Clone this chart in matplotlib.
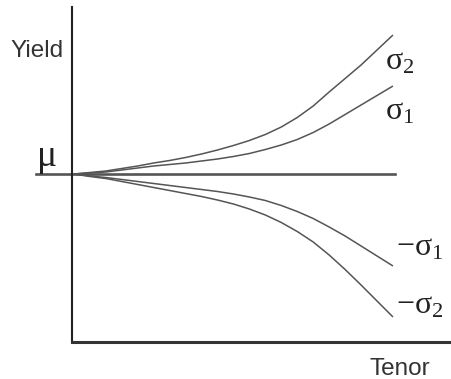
import numpy as np
import matplotlib
matplotlib.use("Agg")
import matplotlib.pyplot as plt

plt.rcParams["font.family"] = ["Liberation Sans", "DejaVu Sans"]
plt.rcParams["mathtext.fontset"] = "custom"
plt.rcParams["mathtext.rm"] = "Liberation Serif"
plt.rcParams["mathtext.it"] = "Liberation Serif:italic"

# tenor (arbitrary units) and yield deviation from the mean
tenor = [0, 0.5, 1, 1.5, 2, 2.5, 3, 3.5, 4, 4.5, 5,
         5.5, 6, 6.5, 7, 7.5, 8, 8.5, 9, 9.5, 10]
sigma2_up = [0, 0.15, 0.3, 0.55, 0.8, 1.1, 1.35, 1.65, 2.0, 2.4, 2.85,
             3.35, 3.95, 4.7, 5.65, 6.8, 8.2, 9.55, 10.9, 12.4, 13.9]
sigma1_up = [0, 0.1, 0.2, 0.4, 0.6, 0.8, 0.95, 1.1, 1.3, 1.5, 1.75,
             2.05, 2.45, 2.9, 3.45, 4.15, 5.0, 5.95, 6.9, 7.85, 8.8]
sigma1_dn = [0, -0.2, -0.35, -0.55, -0.75, -0.95, -1.15, -1.35, -1.55, -1.75, -2.0,
             -2.3, -2.65, -3.15, -3.75, -4.45, -5.3, -6.2, -7.2, -8.2, -9.2]
sigma2_dn = [0, -0.25, -0.45, -0.75, -1.05, -1.35, -1.65, -1.95, -2.25, -2.6, -3.0,
             -3.5, -4.1, -4.85, -5.75, -6.8, -8.1, -9.55, -11.1, -12.7, -14.3]
labels = [r"$\mathrm{\sigma}_2$", r"$\mathrm{\sigma}_1$",
          r"$-\mathrm{\sigma}_1$", r"$-\mathrm{\sigma}_2$"]

W, H = 452, 379
fig = plt.figure(figsize=(W / 100, H / 100), dpi=100)
ax = fig.add_axes([72 / W, (H - 342) / H, (W - 72) / W, (342 - 7) / H])
ax.set_xlim(-0.06, 11.85)
ax.set_ylim(-16.8, 16.7)

line_c = "#555555"
for ys in (sigma2_up, sigma1_up, sigma1_dn, sigma2_dn):
    ax.plot(tenor, ys, color=line_c, lw=1.1, solid_capstyle="butt")

# mean line, extends past the y axis
ax.plot([-1.2, 10.05], [0, 0], color=line_c, lw=1.9, clip_on=False)

for s in ("top", "right"):
    ax.spines[s].set_visible(False)
ax.spines["left"].set_color("#222222")
ax.spines["left"].set_linewidth(1.5)
ax.spines["bottom"].set_color("#333333")
ax.spines["bottom"].set_linewidth(2.2)
ax.set_xticks([])
ax.set_yticks([])

txt_c = "#222222"
fig.text(10 / W, 1 - 57 / H, "Yield", fontsize=17.5, color="#333333",
         ha="left", va="baseline")
fig.text(370 / W, 1 - 375 / H, "Tenor", fontsize=17.5, color="#333333",
         ha="left", va="baseline")
fig.text(36 / W, 1 - 166 / H, r"$\mathrm{\mu}$", fontsize=27, color=txt_c,
         ha="left", va="baseline")

label_pos = [(385, 69), (385, 120), (396, 255), (396, 313)]
for lab, (px, py) in zip(labels, label_pos):
    fig.text(px / W, 1 - py / H, lab, fontsize=23, color=txt_c,
             ha="left", va="baseline")

fig.savefig("out.png", dpi=100)
